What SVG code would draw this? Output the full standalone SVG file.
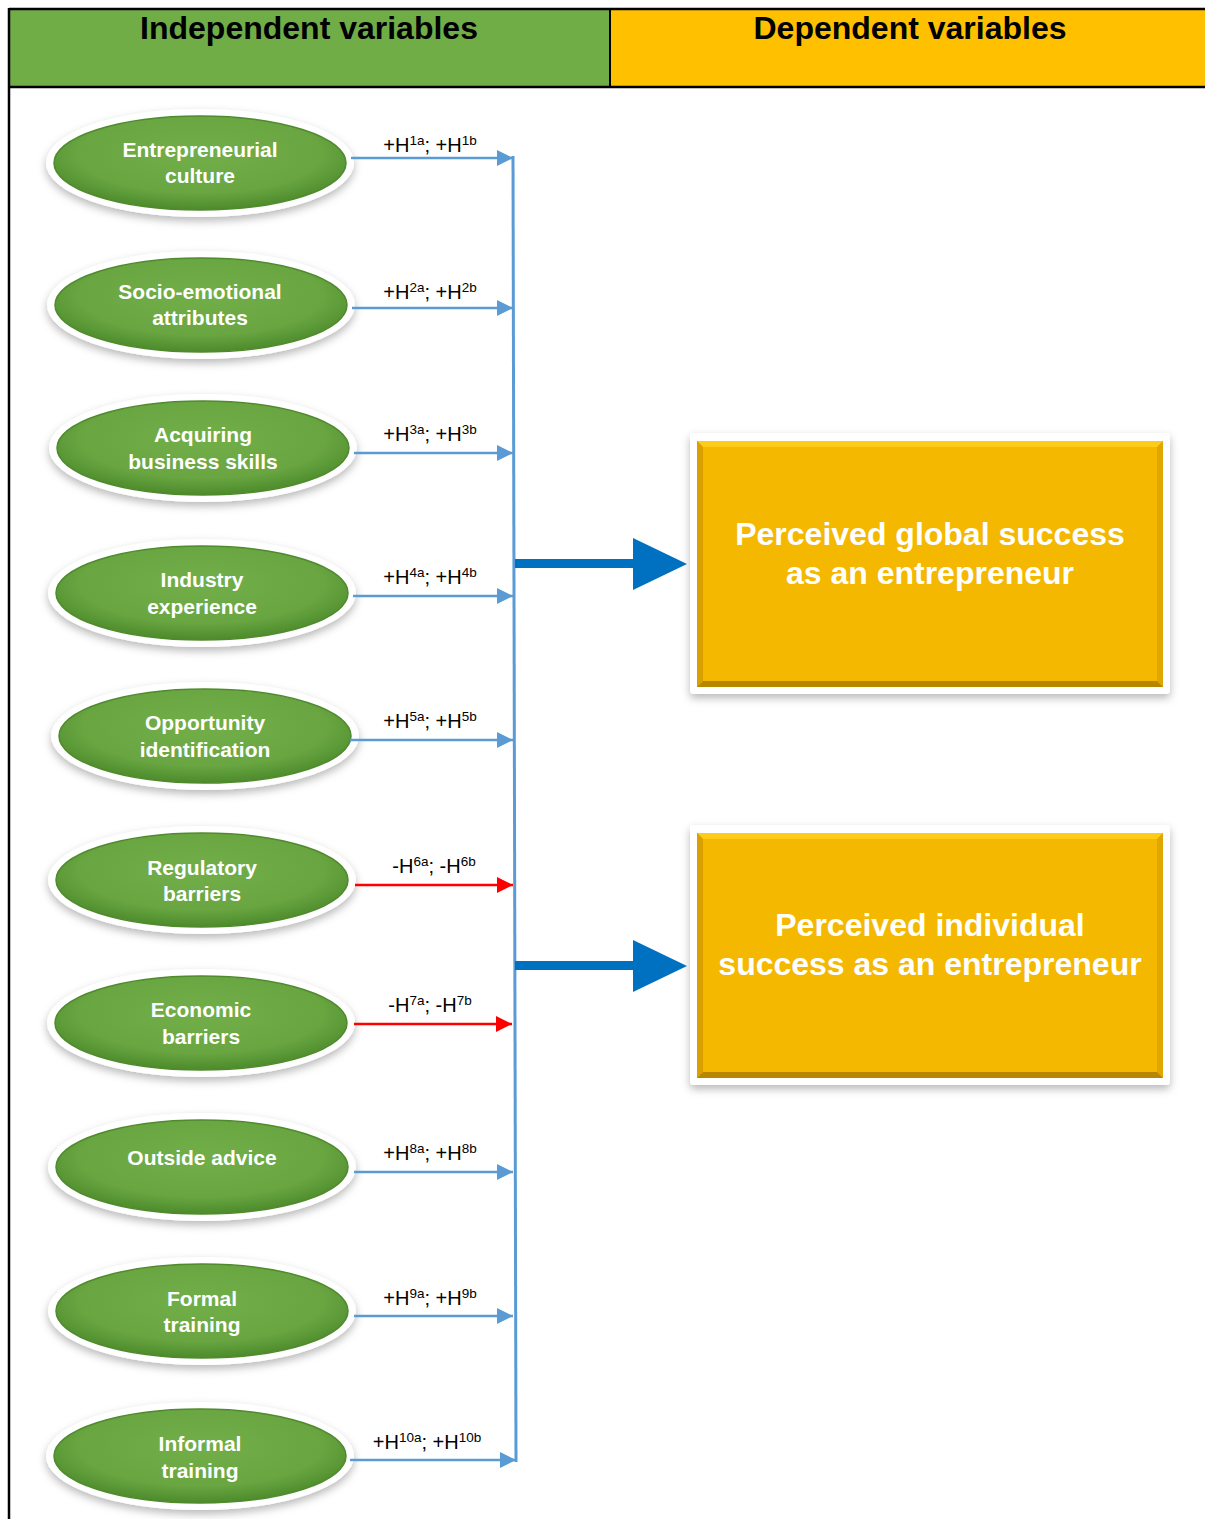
<svg xmlns="http://www.w3.org/2000/svg" width="1205" height="1519" viewBox="0 0 1205 1519">
  <style>
    .hdr { font-family: "Liberation Sans", Arial, sans-serif; font-weight: bold; font-size: 32px; fill: #000; text-anchor: middle; }
    .ntxt { font-family: "Liberation Sans", Arial, sans-serif; font-weight: bold; font-size: 21px; fill: #fff; text-anchor: middle; }
    .btxt { font-family: "Liberation Sans", Arial, sans-serif; font-weight: bold; font-size: 32px; fill: #fff; text-anchor: middle; }
    .lbl { font-family: "Liberation Sans", Arial, sans-serif; font-size: 20px; fill: #000; text-anchor: middle; }
    .sup { font-size: 13.5px; }
    .ring { fill: #fff; filter: url(#soft); }
    .core { fill: url(#greenFill); stroke: #4f8a2d; stroke-width: 1.5; }
    .pos { stroke: #5B9BD5; stroke-width: 2.5; fill: none; marker-end: url(#headBlue); }
    .neg { stroke: #FF0000; stroke-width: 2.5; fill: none; marker-end: url(#headRed); }
  </style>
  <defs>
    <filter id="soft" x="-20%" y="-30%" width="140%" height="170%">
      <feDropShadow dx="0" dy="4" stdDeviation="4" flood-color="#000" flood-opacity="0.28"/>
    </filter>
    <radialGradient id="greenFill" cx="50%" cy="40%" r="60%">
      <stop offset="0" stop-color="#72AE48"/>
      <stop offset="0.7" stop-color="#69A642"/>
      <stop offset="1" stop-color="#4C8A2B"/>
    </radialGradient>
    <marker id="headBlue" viewBox="0 0 10 10" refX="10" refY="5" markerWidth="6.5" markerHeight="6.5" markerUnits="strokeWidth" orient="auto">
      <path d="M0,0 L10,5 L0,10 Z" fill="#5B9BD5"/>
    </marker>
    <marker id="headRed" viewBox="0 0 10 10" refX="10" refY="5" markerWidth="6.5" markerHeight="6.5" markerUnits="strokeWidth" orient="auto">
      <path d="M0,0 L10,5 L0,10 Z" fill="#FF0000"/>
    </marker>
  </defs>

  <!-- header band -->
  <g id="header">
    <rect x="9" y="9" width="601" height="78" fill="#70AD47"/>
    <rect x="610" y="9" width="595" height="78" fill="#FFC000"/>
    <line x1="9" y1="9" x2="1205" y2="9" stroke="#000" stroke-width="2.5"/>
    <line x1="9" y1="87" x2="1205" y2="87" stroke="#000" stroke-width="2.5"/>
    <line x1="610" y1="9" x2="610" y2="87" stroke="#000" stroke-width="2"/>
    <line x1="9" y1="8" x2="9" y2="1519" stroke="#000" stroke-width="2.5"/>
    <text class="hdr" x="309" y="39">Independent variables</text>
    <text class="hdr" x="910" y="39">Dependent variables</text>
  </g>

  <!-- independent variable nodes -->
  <g id="n1">
    <ellipse class="ring" cx="200" cy="163" rx="154" ry="54"/>
    <ellipse class="core" cx="200" cy="163" rx="146" ry="47"/>
    <text class="ntxt" x="200" y="157">Entrepreneurial</text>
    <text class="ntxt" x="200" y="183">culture</text>
  </g>
  <g id="n2">
    <ellipse class="ring" cx="201" cy="305" rx="154" ry="54"/>
    <ellipse class="core" cx="201" cy="305" rx="146" ry="47"/>
    <text class="ntxt" x="200" y="299">Socio-emotional</text>
    <text class="ntxt" x="200" y="325">attributes</text>
  </g>
  <g id="n3">
    <ellipse class="ring" cx="203" cy="448" rx="154" ry="54"/>
    <ellipse class="core" cx="203" cy="448" rx="146" ry="47"/>
    <text class="ntxt" x="203" y="442">Acquiring</text>
    <text class="ntxt" x="203" y="469">business skills</text>
  </g>
  <g id="n4">
    <ellipse class="ring" cx="202" cy="593" rx="154" ry="54"/>
    <ellipse class="core" cx="202" cy="593" rx="146" ry="47"/>
    <text class="ntxt" x="202" y="587">Industry</text>
    <text class="ntxt" x="202" y="614">experience</text>
  </g>
  <g id="n5">
    <ellipse class="ring" cx="205" cy="736" rx="154" ry="54"/>
    <ellipse class="core" cx="205" cy="736" rx="146" ry="47"/>
    <text class="ntxt" x="205" y="730">Opportunity</text>
    <text class="ntxt" x="205" y="757">identification</text>
  </g>
  <g id="n6">
    <ellipse class="ring" cx="202" cy="880" rx="154" ry="54"/>
    <ellipse class="core" cx="202" cy="880" rx="146" ry="47"/>
    <text class="ntxt" x="202" y="875">Regulatory</text>
    <text class="ntxt" x="202" y="901">barriers</text>
  </g>
  <g id="n7">
    <ellipse class="ring" cx="201" cy="1023" rx="154" ry="54"/>
    <ellipse class="core" cx="201" cy="1023" rx="146" ry="47"/>
    <text class="ntxt" x="201" y="1017">Economic</text>
    <text class="ntxt" x="201" y="1044">barriers</text>
  </g>
  <g id="n8">
    <ellipse class="ring" cx="202" cy="1167" rx="154" ry="54"/>
    <ellipse class="core" cx="202" cy="1167" rx="146" ry="47"/>
    <text class="ntxt" x="202" y="1165">Outside advice</text>
  </g>
  <g id="n9">
    <ellipse class="ring" cx="202" cy="1311" rx="154" ry="54"/>
    <ellipse class="core" cx="202" cy="1311" rx="146" ry="47"/>
    <text class="ntxt" x="202" y="1306">Formal</text>
    <text class="ntxt" x="202" y="1332">training</text>
  </g>
  <g id="n10">
    <ellipse class="ring" cx="200" cy="1456" rx="154" ry="54"/>
    <ellipse class="core" cx="200" cy="1456" rx="146" ry="47"/>
    <text class="ntxt" x="200" y="1451">Informal</text>
    <text class="ntxt" x="200" y="1478">training</text>
  </g>

  <!-- dependent variable boxes -->
  <g id="d1">
    <rect x="690" y="433" width="480" height="261" rx="4" fill="#fff" filter="url(#soft)"/>
    <rect x="697" y="441" width="466" height="246" fill="#F5B800"/>
    <polygon points="697,441 1163,441 1157,447 703,447" fill="#FFCB1A"/>
    <polygon points="697,441 703,447 703,681 697,687" fill="#D9A000"/>
    <polygon points="1163,441 1157,447 1157,681 1163,687" fill="#E0A700"/>
    <polygon points="697,687 703,681 1157,681 1163,687" fill="#B68600"/>
    <text class="btxt" x="930" y="545">Perceived global success</text>
    <text class="btxt" x="930" y="584">as an entrepreneur</text>
  </g>
  <g id="d2">
    <rect x="690" y="825" width="480" height="260" rx="4" fill="#fff" filter="url(#soft)"/>
    <rect x="697" y="833" width="466" height="245" fill="#F5B800"/>
    <polygon points="697,833 1163,833 1157,839 703,839" fill="#FFCB1A"/>
    <polygon points="697,833 703,839 703,1072 697,1078" fill="#D9A000"/>
    <polygon points="1163,833 1157,839 1157,1072 1163,1078" fill="#E0A700"/>
    <polygon points="697,1078 703,1072 1157,1072 1163,1078" fill="#B68600"/>
    <text class="btxt" x="930" y="936">Perceived individual</text>
    <text class="btxt" x="930" y="975">success as an entrepreneur</text>
  </g>

  <!-- connectors -->
  <g id="connectors">
    <line x1="513" y1="156" x2="516" y2="1462" stroke="#5B9BD5" stroke-width="3"/>
    <line class="pos" x1="351" y1="158" x2="513" y2="158"/>
    <line class="pos" x1="352" y1="308" x2="513" y2="308"/>
    <line class="pos" x1="354" y1="453" x2="513" y2="453"/>
    <line class="pos" x1="353" y1="596" x2="513" y2="596"/>
    <line class="pos" x1="350" y1="740" x2="513" y2="740"/>
    <line class="neg" x1="355" y1="885" x2="513" y2="885"/>
    <line class="neg" x1="354" y1="1024" x2="512" y2="1024"/>
    <line class="pos" x1="354" y1="1172" x2="513" y2="1172"/>
    <line class="pos" x1="354" y1="1316" x2="513" y2="1316"/>
    <line class="pos" x1="350" y1="1460" x2="516" y2="1460"/>

    <!-- main arrows into the outcome boxes -->
    <rect x="515" y="559" width="120" height="9" fill="#0070C0"/>
    <polygon points="633,538 687,564 633,590" fill="#0070C0"/>
    <rect x="515" y="961" width="120" height="9" fill="#0070C0"/>
    <polygon points="633,940 687,966 633,992" fill="#0070C0"/>

    <!-- hypothesis labels -->
    <text class="lbl" x="430" y="152">+H<tspan class="sup" dy="-7">1a</tspan><tspan dy="7">; +H</tspan><tspan class="sup" dy="-7">1b</tspan></text>
    <text class="lbl" x="430" y="299">+H<tspan class="sup" dy="-7">2a</tspan><tspan dy="7">; +H</tspan><tspan class="sup" dy="-7">2b</tspan></text>
    <text class="lbl" x="430" y="441">+H<tspan class="sup" dy="-7">3a</tspan><tspan dy="7">; +H</tspan><tspan class="sup" dy="-7">3b</tspan></text>
    <text class="lbl" x="430" y="584">+H<tspan class="sup" dy="-7">4a</tspan><tspan dy="7">; +H</tspan><tspan class="sup" dy="-7">4b</tspan></text>
    <text class="lbl" x="430" y="728">+H<tspan class="sup" dy="-7">5a</tspan><tspan dy="7">; +H</tspan><tspan class="sup" dy="-7">5b</tspan></text>
    <text class="lbl" x="434" y="873">-H<tspan class="sup" dy="-7">6a</tspan><tspan dy="7">; -H</tspan><tspan class="sup" dy="-7">6b</tspan></text>
    <text class="lbl" x="430" y="1012">-H<tspan class="sup" dy="-7">7a</tspan><tspan dy="7">; -H</tspan><tspan class="sup" dy="-7">7b</tspan></text>
    <text class="lbl" x="430" y="1160">+H<tspan class="sup" dy="-7">8a</tspan><tspan dy="7">; +H</tspan><tspan class="sup" dy="-7">8b</tspan></text>
    <text class="lbl" x="430" y="1305">+H<tspan class="sup" dy="-7">9a</tspan><tspan dy="7">; +H</tspan><tspan class="sup" dy="-7">9b</tspan></text>
    <text class="lbl" x="427" y="1449">+H<tspan class="sup" dy="-7">10a</tspan><tspan dy="7">; +H</tspan><tspan class="sup" dy="-7">10b</tspan></text>
  </g>
</svg>
